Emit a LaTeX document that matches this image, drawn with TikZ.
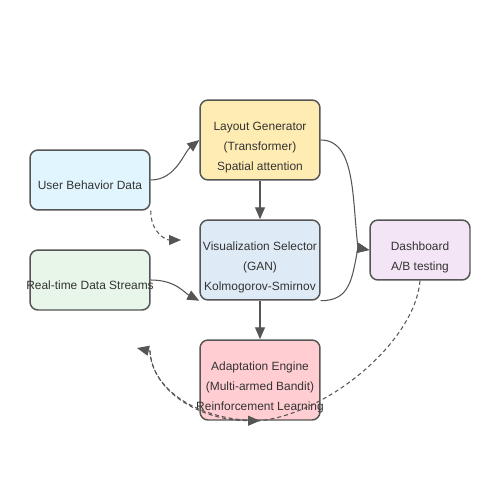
\documentclass[tikz,border=0pt]{standalone}
\usepackage{fontspec}
\setmainfont{Liberation Sans}
\usepackage{xcolor}
\usetikzlibrary{arrows.meta,positioning}

\definecolor{linegray}{HTML}{555555}
\definecolor{textgray}{HTML}{333333}
\definecolor{userblue}{HTML}{E1F5FE}
\definecolor{streamgreen}{HTML}{E8F5E9}
\definecolor{layoutamber}{HTML}{FFECB3}
\definecolor{selectblue}{HTML}{DEEAF6}
\definecolor{enginepink}{HTML}{FFCDD2}
\definecolor{dashpurple}{HTML}{F3E5F5}

\tikzset{
    box/.style={draw=linegray, line width=0.85pt, rounded corners=0.16cm,
        minimum width=2.4cm, minimum height=1.6cm, inner sep=0pt},
    boxtext/.style={align=center, text=textgray,
        font=\fontsize{6.8}{11.4}\selectfont, yshift=-4.3pt},
    flow/.style={draw=linegray, line width=0.6pt,
        -{Triangle[length=0.24cm,width=0.2cm]}},
    feedback/.style={flow, dash pattern=on 2.3pt off 1.7pt}
}

\begin{document}
\begin{tikzpicture}[x=0.02cm, y=-0.02cm]
    \useasboundingbox (0,0) rectangle (500,500);

    % Inputs
    \node [box, fill=userblue, minimum height=1.2cm,
        label={[boxtext, yshift=1.6pt]center:User Behavior Data}] (ubd) at (90,180) {};
    \node [box, fill=streamgreen, minimum height=1.2cm,
        label={[boxtext, yshift=1.6pt]center:Real-time Data Streams}] (rds) at (90,280) {};

    % Models
    \node [box, fill=layoutamber,
        label={[boxtext]center:Layout Generator\\(Transformer)\\Spatial attention}] (lg) at (260,140) {};
    \node [box, fill=selectblue,
        label={[boxtext]center:Visualization Selector\\(GAN)\\Kolmogorov-Smirnov}] (vs) at (260,260) {};
    \node [box, fill=enginepink,
        label={[boxtext]center:Adaptation Engine\\(Multi-armed Bandit)\\Reinforcement Learning}] (ae) at (260,380) {};

    % Output
    \node [box, fill=dashpurple, minimum width=2cm, minimum height=1.2cm,
        label={[boxtext]center:Dashboard\\A/B testing}] (db) at (420,250) {};

    % Loose ends
    \coordinate (selin) at (181,240);
    \coordinate (dbin) at (358,248);
    \coordinate (fbin) at (150,351);
    \coordinate (fb) at (137,348);

    % Main flow
    \draw [flow] (ubd.east) .. controls +(25,0) and +(-15,12) .. (lg.west);
    \draw [feedback] (ubd.south east) .. controls +(0,22) and +(-15,0) .. (selin);
    \draw [flow] (lg.south) -- (vs.north);
    \draw [flow] (rds.east) .. controls +(25,0) and +(-15,-8) .. (vs.south west);
    \draw [flow] (vs.south) -- (ae.north);
    \draw [flow] (lg.east) .. controls +(35,0) and +(-6,-50) .. (dbin) -- (db.west);
    \draw [flow] (vs.south east) .. controls +(30,0) and +(-6,30) .. (dbin) -- (db.west);

    % Feedback
    \draw [feedback] (db.south) .. controls +(-5,60) and +(70,-8) .. (ae.south)
        .. controls +(-60,0) and +(2,40) .. (fbin) -- (fb);
    \draw [feedback] (fbin) .. controls +(2,40) and +(-60,0) .. (ae.south);
\end{tikzpicture}
\end{document}
